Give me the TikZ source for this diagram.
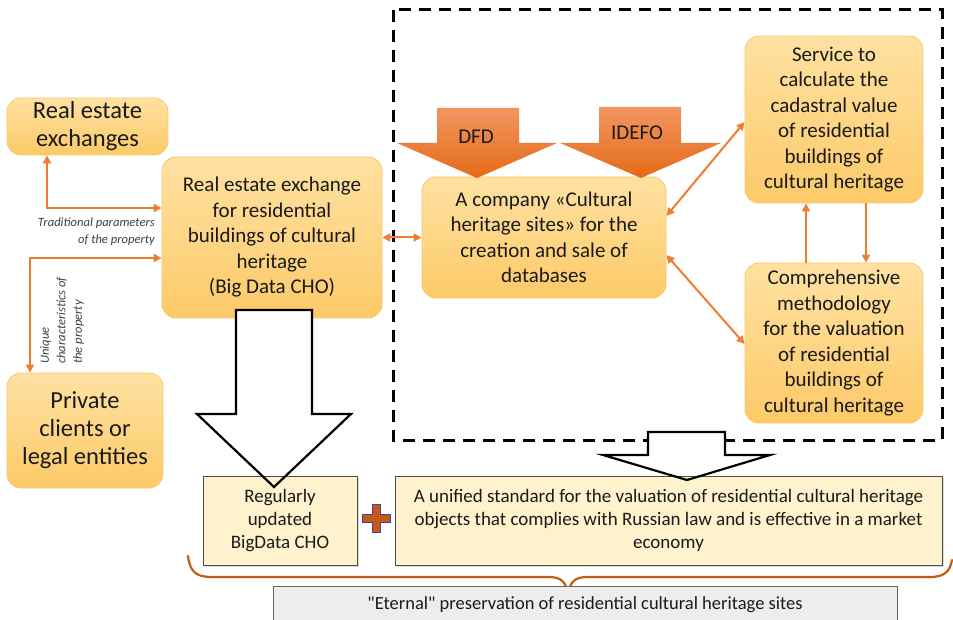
\documentclass[tikz,border=0pt]{standalone}
\usepackage{fontspec}
\setmainfont{Carlito}
\newfontfamily\qfont{Carlito}[Ligatures=TeXOff]
\usetikzlibrary{arrows.meta,shadows}
\definecolor{boxtop}{HTML}{FFE1A2}
\definecolor{boxbot}{HTML}{FCCA68}
\definecolor{boxline}{HTML}{F9C866}
\definecolor{oline}{HTML}{ED7D31}
\definecolor{darr1}{HTML}{F19660}
\definecolor{darr2}{HTML}{E56A17}
\definecolor{cream}{HTML}{FFF2CC}
\definecolor{brc}{HTML}{C55A11}
\definecolor{lgray}{HTML}{EDEDED}
\definecolor{txt}{HTML}{1A1A1A}
\begin{document}
\begin{tikzpicture}[x=1pt,y=1pt,
  obox/.style={draw=boxline, line width=0.8pt, rounded corners=14pt, top color=boxtop, bottom color=boxbot, align=center, text=txt, inner sep=2pt},
  big/.style={font=\fontsize{24.5}{28}\selectfont},
  mid/.style={font=\fontsize{21}{25.5}\selectfont},
  cbox/.style={draw=black!70, line width=0.8pt, fill=cream, align=center, text=txt, font=\fontsize{19}{23}\selectfont, drop shadow={shadow xshift=1.5pt, shadow yshift=-1.5pt, opacity=0.3}},
  oarr/.style={draw=oline, line width=2pt, {Triangle[length=8pt,width=8pt]}-{Triangle[length=8pt,width=8pt]}},
  oarrs/.style={draw=oline, line width=2pt, -{Triangle[length=8pt,width=8pt]}},
  small/.style={font=\fontsize{12.6}{16.5}\selectfont\itshape, text=black!75, inner sep=0pt},
  warr/.style={draw=black, line width=2.2pt, line join=miter},
  darr/.style={top color=darr1, bottom color=darr2, draw=none}
]
\useasboundingbox (0,0) rectangle (953,-620);

% dashed frame
\draw[line width=3pt, dash pattern=on 12pt off 8pt] (393,-10) rectangle (942,-440);

% boxes
\node[obox, big, minimum width=161pt, minimum height=57pt] (ex) at (87.5,-126.5) {Real estate\\exchanges};
\node[obox, mid, minimum width=220pt, minimum height=161pt] (cb) at (272,-237.5) {Real estate exchange\\for residential\\buildings of cultural\\heritage\\(Big Data CHO)};
\node[obox, big, minimum width=156pt, minimum height=115pt] (pc) at (85,-430.5) {Private\\clients or\\legal entities};
\node[obox, mid, minimum width=244pt, minimum height=121pt] (co) at (544,-237.5) {A company «Cultural\\heritage sites» for the\\creation and sale of\\databases};
\node[obox, mid, minimum width=178pt, minimum height=167pt] (sv) at (834,-119.5) {Service to\\calculate the\\cadastral value\\of residential\\buildings of\\cultural heritage};
\node[obox, mid, minimum width=178pt, minimum height=160pt] (cm) at (834,-343) {Comprehensive\\methodology\\for the valuation\\of residential\\buildings of\\cultural heritage};

% orange block arrows
\path[darr] (437,-108) -- (519,-108) -- (519,-143) -- (557,-143) -- (477,-178) -- (397,-143) -- (437,-143) -- cycle;
\path[darr] (599,-107) -- (681,-107) -- (681,-143) -- (721,-143) -- (641,-178) -- (560,-143) -- (599,-143) -- cycle;
\node[mid, text=txt] (dfd) at (476,-137) {DFD};
\node[mid, text=txt] (idef) at (637,-133) {IDEFO};

% orange connectors
\draw[oarr] (cb.west |- 0,-208) -| (ex.south -| 47,0);
\draw[oarr] (cb.west |- 0,-258) -| (pc.north -| 30,0);
\node[small, align=right, anchor=north east] (trad) at (155,-218) {Traditional parameters\\of the property};
\node[small, align=left, rotate=90, anchor=north west] (uniq) at (40,-364) {Unique\\characteristics of\\the property};
\draw[oarr] (cb.east) -- (co.west);
\draw[oarr] (co.east |- 0,-216) -- (sv.west |- 0,-122);
\draw[oarr] (co.east |- 0,-255) -- (cm.west |- 0,-344);
\draw[oarrs] (cm.north -| 806,0) -- (sv.south -| 806,0);
\draw[oarrs] (sv.south -| 866,0) -- (cm.north -| 866,0);

% white block arrows (fill)
\fill[white] (236,-310) -- (312,-310) -- (312,-414) -- (351,-414) -- (274,-487) -- (197,-414) -- (236,-414) -- cycle;
\fill[white] (648,-432) -- (725,-432) -- (725,-455) -- (770,-455) -- (687,-480) -- (603,-455) -- (648,-455) -- cycle;

% bottom boxes
\node[cbox, minimum width=154pt, minimum height=89pt] (rb) at (280,-520.5) {Regularly\\updated\\BigData CHO};
\node[cbox, minimum width=547pt, minimum height=89pt] (st) at (668.5,-520.5) {A unified standard for the valuation of residential cultural heritage\\objects that complies with Russian law and is effective in a market\\economy};

% white block arrows (outline)
\draw[warr] (236,-310) -- (312,-310) -- (312,-414) -- (351,-414) -- (274,-487) -- (197,-414) -- (236,-414) -- cycle;
\draw[warr] (648,-432) -- (725,-432) -- (725,-455) -- (770,-455) -- (687,-480) -- (603,-455) -- (648,-455) -- cycle;

% plus sign
\node[inner sep=0pt, minimum size=28pt] (plus) at (376,-518) {};
\draw[fill=brc, draw=blue!50!gray, line width=0.6pt]
  (plus.center) ++(-4,14) -- ++(8,0) -- ++(0,-10) -- ++(10,0) -- ++(0,-8) -- ++(-10,0) -- ++(0,-10) -- ++(-8,0) -- ++(0,10) -- ++(-10,0) -- ++(0,8) -- ++(10,0) -- cycle;

% brace
\draw[brc, line width=2.2pt, line cap=round]
  (188,-556) .. controls (190,-572) and (196,-577) .. (212,-577)
  -- (548,-577) .. controls (562,-577) and (566,-582) .. (568,-595)
  .. controls (570,-582) and (574,-577) .. (588,-577)
  -- (930,-577) .. controls (946,-577) and (950,-570) .. (952,-560);

% eternal box
\node[draw=black!60, line width=0.8pt, fill=lgray, minimum width=624pt, minimum height=42pt, anchor=north] (et) at (585,-586) {};
\node[text=txt, font=\qfont\fontsize{18.5}{22}\selectfont] (ett) at (585,-605) {"Eternal" preservation of residential cultural heritage sites};
\end{tikzpicture}
\end{document}
